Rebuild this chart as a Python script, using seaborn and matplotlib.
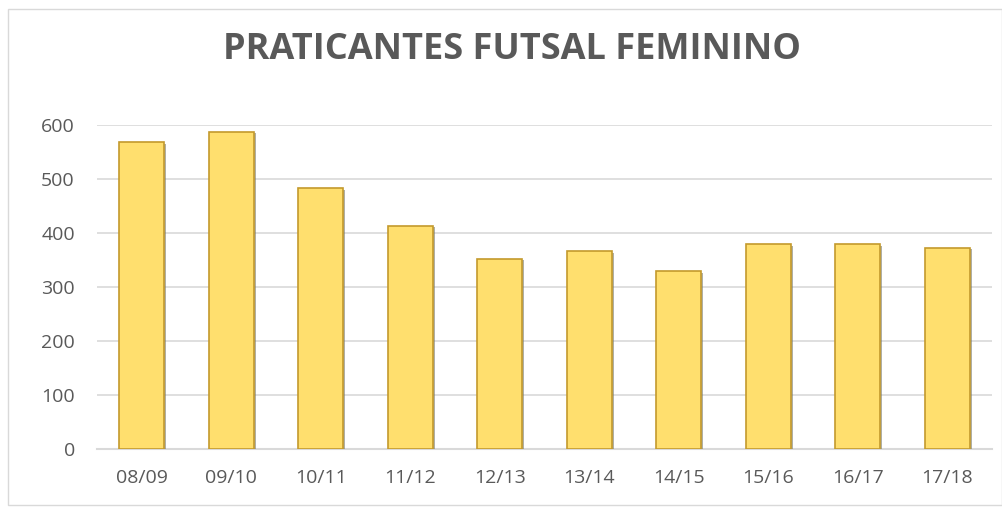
import matplotlib
matplotlib.use("Agg")
import matplotlib.pyplot as plt
import matplotlib.patheffects as pe
from matplotlib.patches import Rectangle
import seaborn as sns
import pandas as pd

seasons = ["08/09", "09/10", "10/11", "11/12", "12/13", "13/14", "14/15", "15/16", "16/17", "17/18"]
praticantes = [568, 587, 483, 414, 352, 366, 329, 379, 379, 373]
yticks = [0, 100, 200, 300, 400, 500, 600]
title = "PRATICANTES FUTSAL FEMININO"

sns.set_theme(style="white")
plt.rcParams["font.family"] = ["Open Sans", "DejaVu Sans"]

df = pd.DataFrame({"season": seasons, "value": praticantes})

fig = plt.figure(figsize=(10.03, 5.08), dpi=100)
ax = fig.add_axes([97 / 1003, 1 - 449.3 / 508, (992 - 97) / 1003, (449.3 - 125) / 508])

sns.barplot(data=df, x="season", y="value", color="#FFD966", width=0.5,
            edgecolor="#C49A2C", linewidth=1.2, saturation=1, ax=ax, zorder=3)
for p in ax.patches:
    p.set_facecolor("#FFDF6E")
    p.set_path_effects([pe.SimplePatchShadow(offset=(1.5, -1), shadow_rgbFace="#7a7a6a", alpha=0.6), pe.Normal()])

ax.set_ylim(0, 600)
ax.set_yticks(yticks)
ax.set_yticklabels([str(v) for v in yticks])
ax.grid(axis="y", color="#D9D9D9", linewidth=1.2, zorder=0)
ax.set_axisbelow(True)
for s in ["top", "right", "left"]:
    ax.spines[s].set_visible(False)
ax.spines["bottom"].set_color("#D9D9D9")
ax.spines["bottom"].set_linewidth(1.5)
ax.set_xlabel("")
ax.set_ylabel("")
ax.tick_params(axis="both", length=0, colors="#595959", labelsize=14)
ax.tick_params(axis="y", pad=16)
ax.tick_params(axis="x", pad=14)

fig.text(0.51, 1 - 50 / 508, title, ha="center", va="center", fontsize=26,
         fontweight="bold", color="#595959")

border = Rectangle((8 / 1003, 3 / 508), 994 / 1003, 496 / 508, transform=fig.transFigure,
                   fill=False, edgecolor="#D9D9D9", linewidth=1)
fig.patches.append(border)

fig.savefig("out.png", dpi=100)
